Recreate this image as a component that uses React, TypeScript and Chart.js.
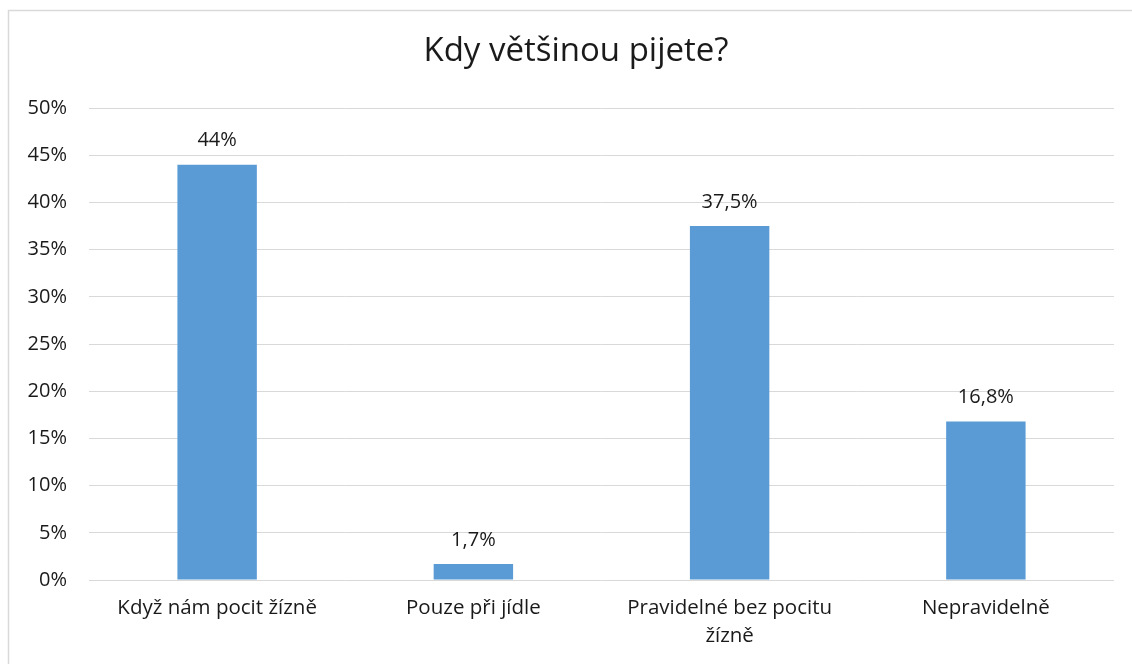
import React, { useEffect, useRef } from "react";
import { Chart, registerables } from "chart.js";

Chart.register(...registerables);

const chartTitle = "Kdy většinou pijete?";
const categories: string[][] = [
  ["Když nám pocit žízně"],
  ["Pouze při jídle"],
  ["Pravidelné bez pocitu", "žízně"],
  ["Nepravidelně"],
];
const values = [44, 1.7, 37.5, 16.8];
const valueLabels = ["44%", "1,7%", "37,5%", "16,8%"];
const yMax = 50;
const yStep = 5;

const FONT = "'Open Sans', 'DejaVu Sans', sans-serif";
const TEXT = "#1a1a1a";
const GRID = "#d9d9d9";
const BAR = "#5B9BD5";

const decorPlugin = {
  id: "decor",
  beforeDraw(chart: any) {
    const ctx = chart.ctx;
    ctx.save();
    ctx.fillStyle = "#ffffff";
    ctx.fillRect(0, 0, chart.width, chart.height);
    ctx.strokeStyle = GRID;
    ctx.lineWidth = 1.5;
    ctx.beginPath();
    ctx.moveTo(8.5, chart.height);
    ctx.lineTo(8.5, 10.5);
    ctx.lineTo(chart.width, 10.5);
    ctx.stroke();
    ctx.fillStyle = TEXT;
    ctx.font = `33px ${FONT}`;
    ctx.textAlign = "center";
    ctx.textBaseline = "middle";
    ctx.fillText(chartTitle, 576, 52);
    ctx.restore();
  },
  afterDatasetsDraw(chart: any) {
    const ctx = chart.ctx;
    const meta = chart.getDatasetMeta(0);
    ctx.save();
    ctx.fillStyle = TEXT;
    ctx.font = `20px ${FONT}`;
    ctx.textAlign = "center";
    ctx.textBaseline = "middle";
    meta.data.forEach((el: any, i: number) => {
      ctx.fillText(valueLabels[i], el.x, el.y - 24);
    });
    ctx.restore();
  },
};

export default function App() {
  const ref = useRef<HTMLCanvasElement | null>(null);
  useEffect(() => {
    if (!ref.current) return;
    const chart = new Chart(ref.current, {
      type: "bar",
      data: {
        labels: categories,
        datasets: [
          {
            data: values,
            backgroundColor: BAR,
            borderWidth: 0,
            barPercentage: 0.31,
            categoryPercentage: 1,
          },
        ],
      },
      options: {
        animation: false,
        responsive: false,
        devicePixelRatio: 1,
        layout: { padding: { top: 108, right: 18, bottom: 0, left: 0 } },
        plugins: {
          legend: { display: false },
          title: { display: false },
          tooltip: { enabled: false },
        },
        scales: {
          x: {
            grid: { display: false, drawTicks: false },
            border: { display: false },
            ticks: {
              color: TEXT,
              font: { family: FONT, size: 20.5, lineHeight: 28 / 20.5 },
              padding: 14,
              maxRotation: 0,
              autoSkip: false,
            },
            afterFit(scale: any) {
              scale.height = 84;
            },
          },
          y: {
            min: 0,
            max: yMax,
            grid: { color: GRID, lineWidth: 1, drawTicks: false },
            border: { display: false },
            ticks: {
              stepSize: yStep,
              color: TEXT,
              padding: 22,
              font: { family: FONT, size: 20 },
              callback: (v: any) => `${v}%`,
            },
            afterFit(scale: any) {
              scale.width = 89;
            },
          },
        },
      },
      plugins: [decorPlugin],
    });
    return () => chart.destroy();
  }, []);
  return (
    <div style={{ position: "absolute", left: 0, top: 0, width: 1132, height: 664 }}>
      <canvas ref={ref} width={1132} height={664} style={{ width: 1132, height: 664, display: "block" }} />
    </div>
  );
}
